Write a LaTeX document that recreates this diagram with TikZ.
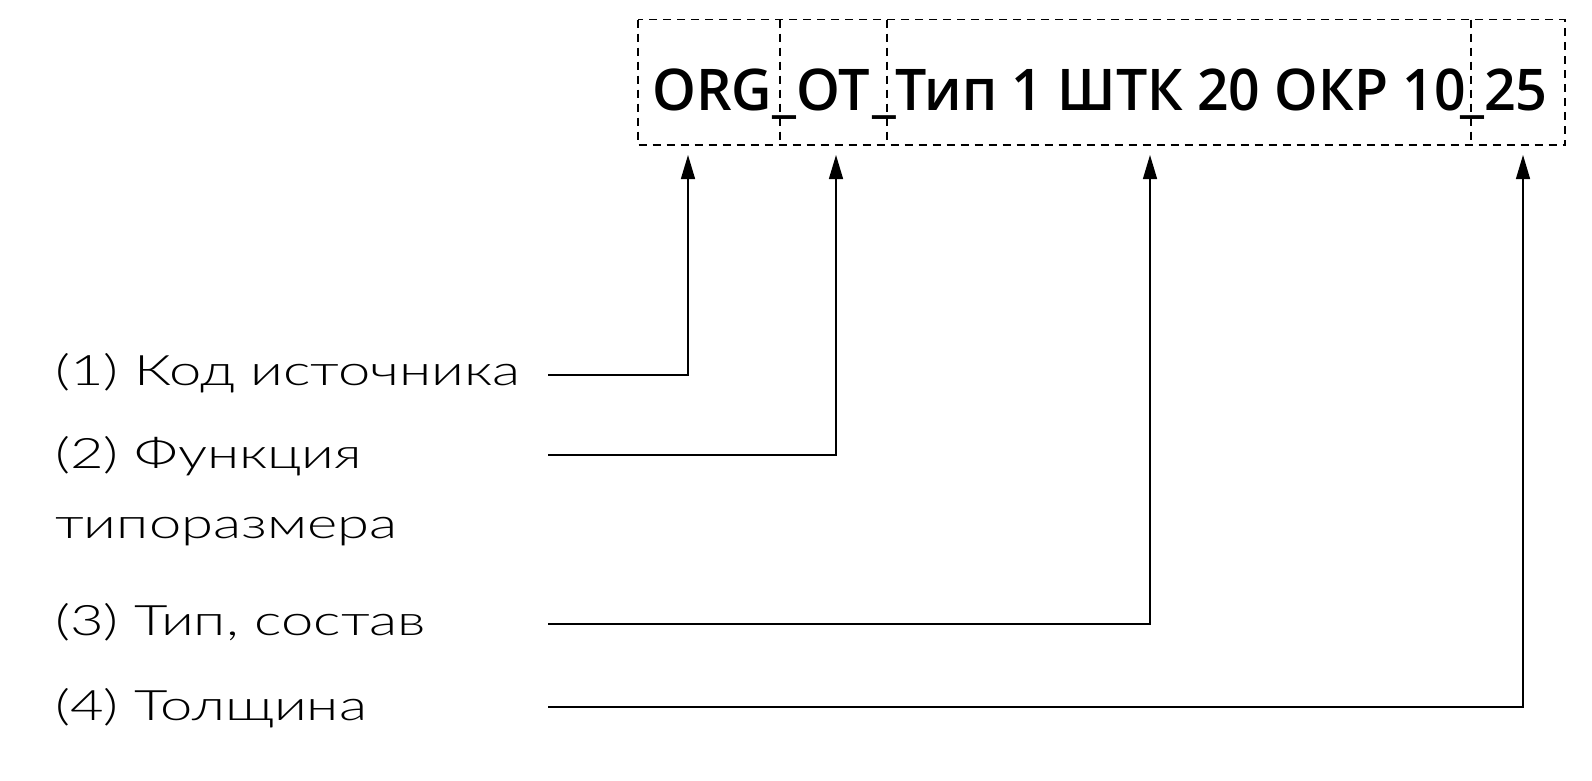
\documentclass[tikz,border=0pt]{standalone}
\usepackage{fontspec}
\usetikzlibrary{arrows.meta}
\IfFontExistsTF{Open Sans Semibold}{\newfontfamily\codefont{Open Sans Semibold}}{%
 \IfFontExistsTF{Open Sans SemiBold}{\newfontfamily\codefont{Open Sans SemiBold}}{%
  \IfFontExistsTF{Fira Sans SemiBold}{\newfontfamily\codefont{Fira Sans SemiBold}}{%
   \newfontfamily\codefont{Open Sans}[UprightFont=*-Bold,FakeStretch=0.92]}}}
\IfFontExistsTF{Lato Light}{\newfontfamily\labelfont{Lato Light}[FakeStretch=1.38]}{\newfontfamily\labelfont{Lato}[FakeStretch=1.3]}
\begin{document}
\begin{tikzpicture}[x=1pt,y=-1pt,
  box/.style={inner sep=0pt, outer sep=0pt, anchor=north west, minimum height=125.5pt},
  dashline/.style={dash pattern=on 8pt off 6pt, line width=1.1pt},
  lead/.style={line width=1.4pt, -{Triangle[length=24pt,width=14pt]}},
  code/.style={anchor=base west, inner sep=0pt, font=\codefont\fontsize{57.5}{70}\selectfont},
  lbl/.style={anchor=base west, inner sep=0pt, font=\labelfont\fontsize{42}{50}\selectfont},
]
\useasboundingbox (0,0) rectangle (1592,780);
\node[code] (c1) at (652,110) {\scalebox{0.97}[1]{ORG}};
\node[code] (c2) at (772,110) {\scalebox{0.97}[1]{\_OT}};
\node[code] (c3) at (872,110) {\scalebox{0.963}[1]{\_Тип 1 ШТК 20 ОКР 10}};
\node[code] (c4) at (1460,110) {\scalebox{0.97}[1]{\_25}};
\node[box, minimum width=142pt] (b1) at (638,19.5) {};
\node[box, minimum width=107pt] (b2) at (780,19.5) {};
\node[box, minimum width=584pt] (b3) at (887,19.5) {};
\node[box, minimum width=94pt] (b4) at (1471,19.5) {};
\draw[dashline] (b1.north west) rectangle (b4.south east);
\draw[dashline] (b1.north east) -- (b1.south east);
\draw[dashline] (b2.north east) -- (b2.south east);
\draw[dashline] (b3.north east) -- (b3.south east);
\node[lbl] (l1) at (55,385) {(1) Код источника};
\node[lbl] (l2) at (55,468) {(2) Функция};
\node[lbl] (l2b) at (55,538) {типоразмера};
\node[lbl] (l3) at (55,635) {(3) Тип, состав};
\node[lbl] (l4) at (55,720) {(4) Толщина};
\coordinate (s1) at (548,375);
\coordinate (s2) at (548,455);
\coordinate (s3) at (548,624);
\coordinate (s4) at (548,707);
\draw[lead] (s1) -| ([xshift=50pt,yshift=-10pt]b1.south west);
\draw[lead] (s2) -| ([xshift=56pt,yshift=-10pt]b2.south west);
\draw[lead] (s3) -| ([xshift=263pt,yshift=-10pt]b3.south west);
\draw[lead] (s4) -| ([xshift=52pt,yshift=-10pt]b4.south west);
\end{tikzpicture}
\end{document}
